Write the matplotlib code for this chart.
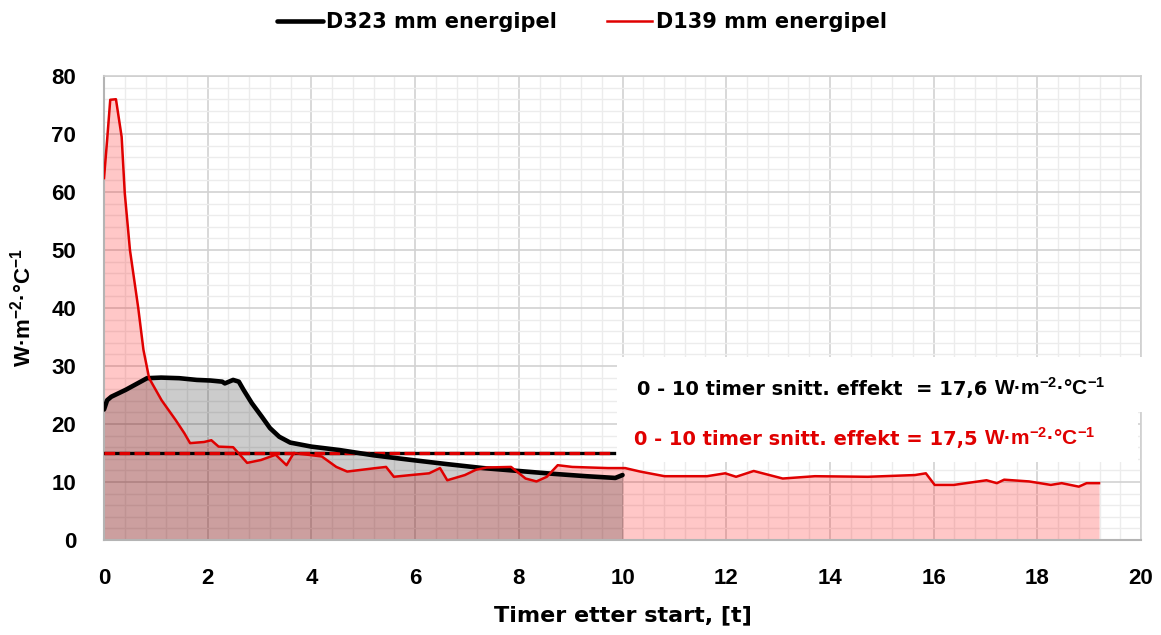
import matplotlib.pyplot as plt
from matplotlib.patches import Rectangle
from matplotlib.ticker import MultipleLocator

plt.rcParams['mathtext.fontset'] = 'custom'
plt.rcParams['mathtext.rm'] = 'Liberation Sans'
plt.rcParams['mathtext.bf'] = 'Liberation Sans:bold'

# D323 mm energipel, hours after start / W m-2 C-1
d323_t = [0.0, 0.06, 0.14, 0.42, 0.83, 1.10, 1.45, 1.79, 2.05, 2.28, 2.33, 2.49, 2.60,
          2.69, 2.85, 3.04, 3.20, 3.38, 3.59, 4.00, 4.55, 5.20, 5.93, 6.60, 7.31,
          8.00, 8.68, 9.30, 9.86, 10.0]
d323_u = [22.5, 24.1, 24.7, 25.9, 27.9, 28.0, 27.9, 27.6, 27.5, 27.3, 27.0, 27.6, 27.3,
          25.9, 23.6, 21.3, 19.3, 17.8, 16.8, 16.1, 15.5, 14.6, 13.8, 13.1, 12.4,
          11.9, 11.4, 11.0, 10.7, 11.2]

# D139 mm energipel
d139_t = [0.0, 0.06, 0.12, 0.23, 0.34, 0.40, 0.50, 0.66, 0.76, 0.87, 1.11, 1.38, 1.55,
          1.66, 1.93, 2.07, 2.21, 2.49, 2.76, 3.03, 3.31, 3.52, 3.66, 4.20, 4.48,
          4.69, 5.24, 5.44, 5.59, 5.92, 6.27, 6.48, 6.62, 6.96, 7.17, 7.38, 7.85,
          8.13, 8.34, 8.54, 8.75, 9.03, 9.72, 10.05, 10.34, 10.81, 11.63, 11.98,
          12.19, 12.53, 13.09, 13.71, 14.73, 15.64, 15.85, 16.02, 16.39, 17.02,
          17.22, 17.36, 17.84, 18.26, 18.47, 18.80, 18.95, 19.19]
d139_u = [62.4, 69.0, 75.9, 76.0, 69.5, 59.8, 50.0, 40.0, 32.8, 27.9, 24.1, 20.7, 18.4,
          16.7, 16.9, 17.2, 16.1, 16.0, 13.3, 13.8, 14.7, 12.9, 15.0, 14.4, 12.6,
          11.8, 12.4, 12.6, 10.9, 11.2, 11.5, 12.4, 10.3, 11.2, 12.1, 12.5, 12.6,
          10.6, 10.1, 10.9, 12.9, 12.6, 12.4, 12.4, 11.8, 11.0, 11.0, 11.5,
          10.9, 11.9, 10.6, 11.0, 10.9, 11.2, 11.5, 9.5, 9.5, 10.3,
          9.8, 10.4, 10.1, 9.5, 9.8, 9.2, 9.8, 9.8]

# dashed reference level over the first 10 hours
ref_level = 15.0
ref_span = [0.0, 9.84]

avg_d323 = '17,6'
avg_d139 = '17,5'
unit = r'$\mathbf{W·m^{-2}·°C^{-1}}$'

x_ticks = list(range(0, 21, 2))
y_ticks = list(range(0, 81, 10))

fig = plt.figure(figsize=(11.61, 6.35), dpi=100)
ax = fig.add_axes([0.0896, 0.1496, 0.8932, 0.7307])

ax.fill_between(d139_t, d139_u, 0, color='red', alpha=0.22, lw=0, zorder=1)
ax.fill_between(d323_t, d323_u, 0, color='black', alpha=0.2, lw=0, zorder=1.1)

ax.plot(ref_span, [ref_level, ref_level], color='black', lw=2.4, zorder=3)
ax.plot(ref_span, [ref_level, ref_level], color='#e00000', lw=2.4,
        dashes=(3.2, 1.3), zorder=3.1)

ax.plot(d323_t, d323_u, color='black', lw=3.3, solid_capstyle='round',
        label='D323 mm energipel', zorder=4)
ax.plot(d139_t, d139_u, color='#e00000', lw=1.8, label='D139 mm energipel', zorder=4.5)

ax.set_xlim(0, 20)
ax.set_ylim(0, 80)
ax.set_xticks(x_ticks)
ax.set_yticks(y_ticks)
ax.xaxis.set_minor_locator(MultipleLocator(0.4))
ax.yaxis.set_minor_locator(MultipleLocator(2))
ax.grid(which='major', color='#d2d2d2', lw=1.2)
ax.grid(which='minor', color='#ececec', lw=1.0)
ax.set_axisbelow(True)
ax.tick_params(which='both', length=0)
ax.tick_params(axis='x', pad=20)
ax.tick_params(axis='y', pad=20)
for lab in ax.get_xticklabels() + ax.get_yticklabels():
    lab.set_fontfamily('Liberation Sans')
    lab.set_fontweight('bold')
    lab.set_fontsize(16)

for side in ['left', 'bottom']:
    ax.spines[side].set_color('#b4b4b4')
    ax.spines[side].set_linewidth(1.5)
for side in ['top', 'right']:
    ax.spines[side].set_color('#cfcfcf')
    ax.spines[side].set_linewidth(1.2)

ax.set_xlabel('Timer etter start, [t]', family='DejaVu Sans', weight='bold',
              fontsize=16, labelpad=12)
ax.set_ylabel(r'$\mathbf{W·m^{-2}·°C^{-1}}$', fontsize=16, labelpad=12)

# white panels behind the two summary lines
ax.add_patch(Rectangle((9.9, 22.1), 10.4, 9.5, fc='white', ec='none',
                       zorder=2.6, clip_on=False))
ax.add_patch(Rectangle((9.9, 13.4), 10.04, 8.7, fc='white', ec='none', zorder=2.6))

summary = [
    (10.28, 25.0, '0 - 10 timer snitt. effekt  = ' + avg_d323, 'black'),
    (10.22, 16.4, '0 - 10 timer snitt. effekt = ' + avg_d139, '#e00000'),
]
fig.canvas.draw()
for x, y, txt, col in summary:
    t = ax.text(x, y, txt, family='DejaVu Sans', weight='bold', fontsize=14.0,
                color=col, va='baseline', ha='left', zorder=5)
    fig.canvas.draw()
    x_end = ax.transData.inverted().transform((t.get_window_extent().x1, 0))[0]
    ax.text(x_end + 0.12, y, unit, fontsize=15, color=col, va='baseline',
            ha='left', zorder=5)

fig.legend(loc='center', bbox_to_anchor=(0.501, 0.965), ncol=2, frameon=False,
           prop={'family': 'DejaVu Sans', 'weight': 'bold', 'size': 15},
           handlelength=2.2, handletextpad=0.15, columnspacing=2.4)

fig.savefig('out.png', dpi=100)
